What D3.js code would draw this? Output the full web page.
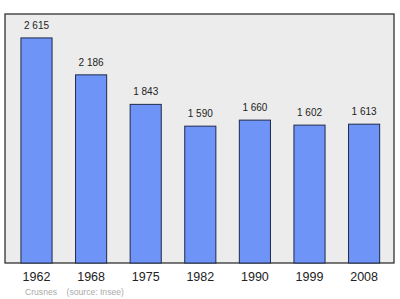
<!DOCTYPE html>
<html>
<head>
<meta charset="utf-8">
<script src="https://cdn.jsdelivr.net/npm/d3@7"></script>
<style>
    body { margin: 0; background: #fff; }
    svg { display: block; font-family: "Liberation Sans", Arial, sans-serif; }
</style>
</head>
<body>
<div id="chart"></div>
<script>
// data
const years = ["1962", "1968", "1975", "1982", "1990", "1999", "2008"];
const population = [2615, 2186, 1843, 1590, 1660, 1602, 1613];
const footnote = "Crusnes    (source: Insee)";

const width = 400;
const height = 299;

// plot frame
const frame = { left: 5, top: 14, right: 394, bottom: 263 };

const svg = d3.select("#chart")
    .append("svg")
    .attr("width", width)
    .attr("height", height);

// background panel
svg.append("rect")
    .attr("x", frame.left)
    .attr("y", frame.top)
    .attr("width", frame.right - frame.left)
    .attr("height", frame.bottom - frame.top)
    .attr("fill", "#ececec")
    .attr("stroke", "#222")
    .attr("stroke-width", 1.2);

const x = d3.scaleBand()
    .domain(years)
    .range([9.2, 391.4])
    .paddingInner(0.43)
    .paddingOuter(0.215);

const y = d3.scaleLinear()
    .domain([0, 2893])
    .range([frame.bottom, frame.top]);

const data = years.map((yr, i) => ({ year: yr, value: population[i] }));

// bars
svg.selectAll("rect.bar")
    .data(data)
    .enter()
    .append("rect")
    .attr("class", "bar")
    .attr("x", d => x(d.year))
    .attr("y", d => y(d.value))
    .attr("width", x.bandwidth())
    .attr("height", d => y(0) - y(d.value))
    .attr("fill", "#6f94f8")
    .attr("stroke", "#1f2a4a")
    .attr("stroke-width", 1);

// value labels, thousands split by a space
const fmt = d3.format(",");
svg.selectAll("text.value")
    .data(data)
    .enter()
    .append("text")
    .attr("class", "value")
    .attr("x", d => x(d.year) + x.bandwidth() / 2)
    .attr("y", d => y(d.value) - 9)
    .attr("text-anchor", "middle")
    .attr("font-size", 10)
    .attr("fill", "#222")
    .text(d => fmt(d.value).replace(",", " "));

// year labels under the frame
const axis = d3.axisBottom(x).tickSize(0).tickPadding(0);
const gx = svg.append("g")
    .attr("transform", `translate(0,${frame.bottom + 17.5})`)
    .call(axis);
gx.select(".domain").remove();
gx.selectAll("text")
    .attr("font-size", 12.5)
    .attr("font-family", "Liberation Sans, Arial, sans-serif")
    .attr("fill", "#222")
    .attr("dy", 0);

// source note
svg.append("text")
    .attr("x", 25)
    .attr("y", 295)
    .attr("font-size", 8.6)
    .attr("fill", "#aaa")
    .attr("xml:space", "preserve")
    .style("white-space", "pre")
    .text(footnote);
</script>
</body>
</html>
